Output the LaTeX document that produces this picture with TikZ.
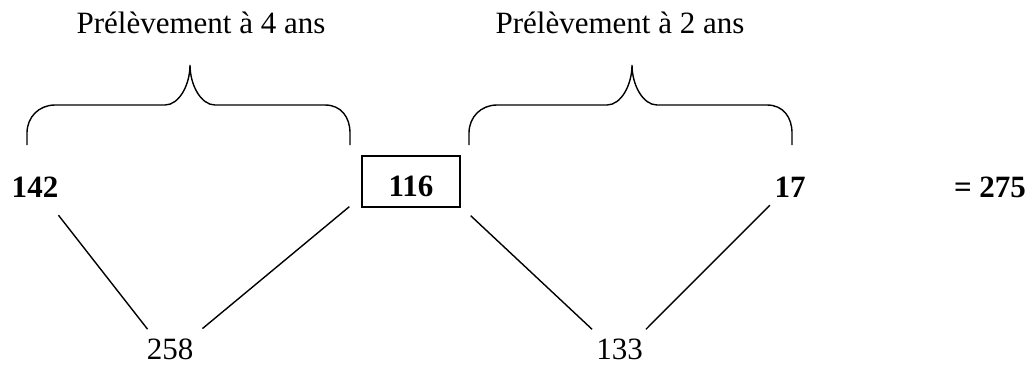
\documentclass[tikz,border=0pt]{standalone}
\usepackage{fontspec}
\setmainfont{Liberation Serif}
\tikzset{
  lbl/.style={inner sep=0pt, anchor=base, font=\fontsize{31}{37}\selectfont},
  num/.style={lbl, font=\fontsize{31}{37}\selectfont\bfseries},
  boxed/.style={draw, line width=1.3pt, font=\fontsize{31}{37}\selectfont\bfseries,
    minimum width=98pt, text height=29pt, text depth=0pt, inner ysep=11pt, inner xsep=0pt, anchor=center},
  link/.style={line width=1.4pt},
  bracepic/.pic={
    \draw[line width=1.4pt] (-163,80) -- (-163,68) .. controls (-163,52) and (-151,40) .. (-135,40)
      -- (-25,40) .. controls (-11,40) and (0,20) .. (0,0)
      .. controls (0,20) and (11,40) .. (25,40)
      -- (135,40) .. controls (151,40) and (160,52) .. (160,68) -- (160,80);
  }
}
\begin{document}
\begin{tikzpicture}[x=1pt, y=-1pt]
\useasboundingbox (0,0) rectangle (1032,365);
% titles
\node[lbl] (t1) at (201,33) {Prélèvement à 4 ans};
\node[lbl] (t2) at (620,33) {Prélèvement à 2 ans};
% braces
\pic at (190,65) {bracepic};
\pic at (632,65) {bracepic};
% top row
\node[num] (n142) at (35,197) {142};
\node[boxed] (n116) at (411,181.5) {116};
\node[num] (n17) at (790,197) {17};
\node[num] (eq) at (990,197) {= 275};
% bottom row
\node[lbl] (n258) at (170,359) {258};
\node[lbl] (n133) at (619.5,359) {133};
% connectors
\draw[link] ([yshift=-18pt]n142.south east) -- ([shift={(1pt,9pt)}]n258.north west);
\draw[link] ([shift={(9pt,9.6pt)}]n258.north east) -- ([shift={(-12pt,1pt)}]n116.south west);
\draw[link] ([shift={(10pt,-8pt)}]n116.south east) -- ([shift={(-4pt,9pt)}]n133.north west);
\draw[link] ([shift={(3pt,9pt)}]n133.north east) -- ([shift={(-4.5pt,-8pt)}]n17.south west);
\end{tikzpicture}
\end{document}
